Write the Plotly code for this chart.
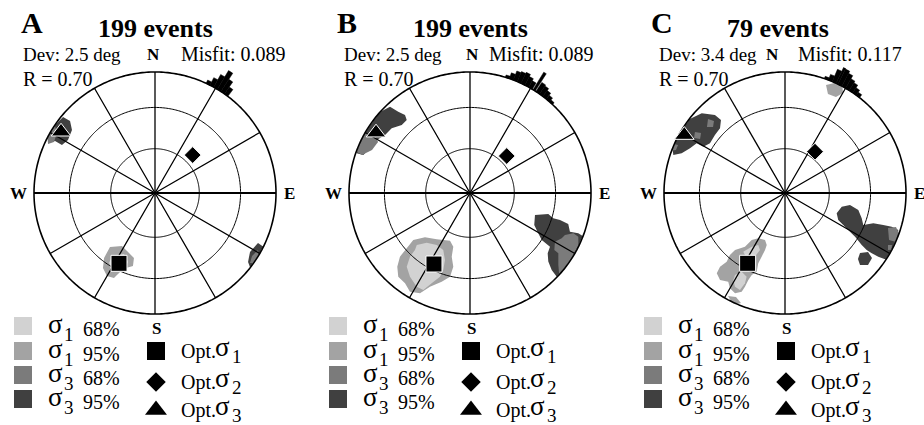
import numpy as np
import plotly.graph_objects as go

FIG_W, FIG_H = 924, 425
FONT = "Liberation Serif"

# ---------------- text content ----------------
PANEL_LABELS = ["A", "B", "C"]
EVENT_TITLES = ["199 events", "199 events", "79 events"]
DEV_TEXT = ["Dev: 2.5 deg", "Dev: 2.5 deg", "Dev: 3.4 deg"]
MISFIT_TEXT = ["Misfit: 0.089", "Misfit: 0.089", "Misfit: 0.117"]
R_TEXT = ["R = 0.70", "R = 0.70", "R = 0.70"]

REGION_SUB = ["1", "1", "3", "3"]
REGION_PCT = ["68%", "95%", "68%", "95%"]
REGION_COLORS = ["#d2d2d2", "#a3a3a3", "#7b7b7b", "#404040"]
OPT_SYMBOLS = ["square", "diamond", "triangle-up"]
OPT_SUB = ["1", "2", "3"]

# ---------------- stereonet grid ----------------
SPOKE_AZ = [0, 30, 60, 90, 120, 150]      # diameters every 30 deg
RING_PLUNGE = [60, 30]                     # small circles (equal-area)

# ---------------- optimum axes (azimuth deg, projected radius) ----------------
OPT_S1_AZ = [207.1, 206.9, 208.0]
OPT_S1_R = [0.653, 0.658, 0.658]
OPT_S2_AZ = [44.8, 44.8, 36.0]
OPT_S2_R = [0.442, 0.431, 0.422]
OPT_S3_AZ = [303.1, 302.7, 299.9]
OPT_S3_R = [0.927, 0.923, 0.960]

# ---------------- rose histograms on the rim ----------------
ROSE_A_AZ = [26, 28, 30, 32, 34, 36]
ROSE_A_LEN = [0.03, 0.07, 0.12, 0.18, 0.12, 0.07]
ROSE_A_WID = [2, 2, 2, 2, 2, 2]
ROSE_B_AZ = [18, 20, 22, 24, 26, 28, 30, 32, 34, 36, 38, 40, 42]
ROSE_B_LEN = [0.02, 0.05, 0.08, 0.09, 0.10, 0.08, 0.06, 0.17, 0.09, 0.08, 0.06, 0.04, 0.02]
ROSE_B_WID = [2, 2, 2, 2, 2, 2, 2, 1.2, 2, 2, 2, 2, 2]
ROSE_C_AZ = [20, 22, 24, 25.5, 27, 29, 31, 33, 35, 37]
ROSE_C_LEN = [0.02, 0.05, 0.11, 0.20, 0.14, 0.12, 0.09, 0.075, 0.05, 0.03]
ROSE_C_WID = [2, 2, 2, 1, 2, 2, 2, 2, 2, 2]

# ---------------- confidence regions (east, north in unit-circle projection) ----------------
A_S1_95 = [[(-0.372, -0.446), (-0.273, -0.438), (-0.223, -0.488), (-0.174, -0.537), (-0.182, -0.603),
            (-0.240, -0.620), (-0.289, -0.653), (-0.339, -0.702), (-0.397, -0.686), (-0.430, -0.620),
            (-0.421, -0.537)]]
A_S1_68 = [[(-0.355, -0.521), (-0.256, -0.504), (-0.223, -0.570), (-0.264, -0.653), (-0.347, -0.645),
            (-0.380, -0.579)]]
A_S3_95 = [[(-0.818, 0.570), (-0.760, 0.628), (-0.702, 0.595), (-0.686, 0.521), (-0.719, 0.438),
            (-0.769, 0.397), (-0.826, 0.430), (-0.884, 0.413), (-0.901, 0.471), (-0.868, 0.537)],
           [(0.851, -0.413), (0.901, -0.446), (0.893, -0.512), (0.851, -0.579), (0.793, -0.620),
            (0.769, -0.570), (0.785, -0.488)]]
A_S3_68 = [[(-0.884, 0.537), (-0.835, 0.562), (-0.810, 0.496), (-0.835, 0.421), (-0.884, 0.405),
            (-0.909, 0.463)],
           [(0.802, -0.521), (0.851, -0.471), (0.876, -0.521), (0.826, -0.587), (0.785, -0.579)]]

B_S1_95 = [[(-0.469, -0.388), (-0.372, -0.366), (-0.275, -0.383), (-0.165, -0.394), (-0.138, -0.444),
            (-0.151, -0.526), (-0.138, -0.609), (-0.165, -0.692), (-0.234, -0.733), (-0.331, -0.774),
            (-0.413, -0.829), (-0.496, -0.816), (-0.537, -0.746), (-0.593, -0.692), (-0.601, -0.609),
            (-0.579, -0.526), (-0.523, -0.457)]]
B_S1_68 = [[(-0.440, -0.430), (-0.358, -0.411), (-0.275, -0.430), (-0.221, -0.471), (-0.207, -0.554),
            (-0.221, -0.636), (-0.248, -0.692), (-0.317, -0.746), (-0.386, -0.802), (-0.440, -0.774),
            (-0.496, -0.692), (-0.523, -0.609), (-0.496, -0.526), (-0.455, -0.471)]]
B_S3_95 = [[(-0.758, 0.700), (-0.661, 0.713), (-0.593, 0.672), (-0.537, 0.645), (-0.523, 0.603),
            (-0.564, 0.562), (-0.647, 0.535), (-0.702, 0.479), (-0.771, 0.438), (-0.826, 0.369),
            (-0.882, 0.314), (-0.936, 0.328), (-0.931, 0.411), (-0.895, 0.493), (-0.854, 0.576),
            (-0.812, 0.659)],
           [(0.537, -0.182), (0.647, -0.174), (0.688, -0.209), (0.744, -0.223), (0.812, -0.256),
            (0.826, -0.320), (0.895, -0.333), (0.945, -0.361), (0.936, -0.471), (0.895, -0.554),
            (0.812, -0.650), (0.744, -0.719), (0.717, -0.692), (0.675, -0.636), (0.647, -0.567),
            (0.642, -0.498), (0.661, -0.444), (0.593, -0.388), (0.564, -0.333), (0.531, -0.264)]]
B_S3_68 = [[(-0.868, 0.504), (-0.785, 0.479), (-0.760, 0.421), (-0.810, 0.355), (-0.893, 0.314),
            (-0.934, 0.339), (-0.926, 0.421)],
           [(0.702, -0.402), (0.758, -0.374), (0.785, -0.347), (0.854, -0.333), (0.895, -0.361),
            (0.909, -0.444), (0.868, -0.540), (0.799, -0.636), (0.744, -0.678), (0.730, -0.595),
            (0.730, -0.498), (0.697, -0.471)]]

C_S1_95 = [[(-0.413, -0.471), (-0.331, -0.444), (-0.275, -0.388), (-0.221, -0.374), (-0.165, -0.388),
            (-0.151, -0.430), (-0.165, -0.471), (-0.193, -0.526), (-0.221, -0.581), (-0.234, -0.650),
            (-0.275, -0.678), (-0.303, -0.719), (-0.331, -0.774), (-0.358, -0.816), (-0.413, -0.829),
            (-0.455, -0.788), (-0.469, -0.733), (-0.537, -0.719), (-0.564, -0.664), (-0.537, -0.609),
            (-0.482, -0.568), (-0.455, -0.512)],
           [(-0.471, -0.851), (-0.405, -0.860), (-0.364, -0.909), (-0.397, -0.934), (-0.455, -0.909)],
           [(0.339, 0.893), (0.413, 0.917), (0.479, 0.884), (0.479, 0.826), (0.421, 0.793), (0.355, 0.818)]]
C_S1_68 = [[(-0.345, -0.485), (-0.275, -0.444), (-0.221, -0.430), (-0.207, -0.471), (-0.248, -0.526),
            (-0.303, -0.568)],
           [(-0.413, -0.678), (-0.358, -0.650), (-0.317, -0.692), (-0.331, -0.746), (-0.372, -0.802),
            (-0.413, -0.774), (-0.427, -0.719)]]
C_S3_95 = [[(-0.812, 0.631), (-0.688, 0.659), (-0.579, 0.645), (-0.529, 0.603), (-0.537, 0.535),
            (-0.579, 0.479), (-0.620, 0.411), (-0.675, 0.383), (-0.730, 0.411), (-0.785, 0.369),
            (-0.854, 0.328), (-0.923, 0.314), (-0.950, 0.369), (-0.923, 0.438), (-0.882, 0.493),
            (-0.854, 0.562)],
           [(0.469, -0.113), (0.537, -0.099), (0.606, -0.140), (0.634, -0.209), (0.647, -0.264),
            (0.730, -0.250), (0.812, -0.264), (0.882, -0.279), (0.936, -0.306), (0.950, -0.361),
            (0.909, -0.457), (0.882, -0.526), (0.840, -0.554), (0.771, -0.526), (0.717, -0.498),
            (0.675, -0.471), (0.634, -0.430), (0.579, -0.361), (0.537, -0.320), (0.496, -0.279),
            (0.440, -0.223), (0.427, -0.168)],
           [(0.620, -0.496), (0.686, -0.488), (0.719, -0.537), (0.686, -0.595), (0.620, -0.595),
            (0.603, -0.545)]]
C_S3_68 = [[(-0.636, 0.612), (-0.587, 0.595), (-0.595, 0.545), (-0.645, 0.545)],
           [(-0.744, 0.504), (-0.694, 0.496), (-0.702, 0.446), (-0.752, 0.455)],
           [(-0.934, 0.413), (-0.884, 0.397), (-0.901, 0.355), (-0.942, 0.355)],
           [(0.851, -0.289), (0.917, -0.281), (0.942, -0.331), (0.917, -0.405), (0.860, -0.388)],
           [(0.851, -0.430), (0.884, -0.430), (0.884, -0.471), (0.851, -0.471)]]

S1_95 = [A_S1_95, B_S1_95, C_S1_95]
S1_68 = [A_S1_68, B_S1_68, C_S1_68]
S3_95 = [A_S3_95, B_S3_95, C_S3_95]
S3_68 = [A_S3_68, B_S3_68, C_S3_68]
ROSE_AZ = [ROSE_A_AZ, ROSE_B_AZ, ROSE_C_AZ]
ROSE_LEN = [ROSE_A_LEN, ROSE_B_LEN, ROSE_C_LEN]
ROSE_WID = [ROSE_A_WID, ROSE_B_WID, ROSE_C_WID]

# ---------------- layout geometry (pixels) ----------------
CX = [155, 470, 785]
CY = 193
RPX = 121          # pixel radius of the primitive circle (r = 1)


def en_to_polar(pts):
    arr = np.asarray(pts, dtype=float)
    e, n = arr[:, 0], arr[:, 1]
    th = np.degrees(np.arctan2(e, n)) % 360
    r = np.minimum(np.hypot(e, n), 0.997)
    return th, r


def ann(x, y, text, size, bold=False, xanchor="center", yanchor="middle"):
    return dict(x=x / FIG_W, y=1 - y / FIG_H, xref="paper", yref="paper",
                text=f"<b>{text}</b>" if bold else text, showarrow=False,
                font=dict(family=FONT, size=size, color="black"),
                xanchor=xanchor, yanchor=yanchor, borderpad=0)


fig = go.Figure()
annotations = []
layout_polars = {}

for k in range(3):
    sp = "polar" if k == 0 else f"polar{k + 1}"
    cx = CX[k]
    # radial range extends past the primitive circle so the rim histogram fits
    rmax = min(1.22, (FIG_W - cx) / RPX - 0.001, cx / RPX)
    half = rmax * RPX
    layout_polars[sp] = dict(
        domain=dict(x=[(cx - half) / FIG_W, (cx + half) / FIG_W],
                    y=[(FIG_H - CY - half) / FIG_H, (FIG_H - CY + half) / FIG_H]),
        bgcolor="rgba(0,0,0,0)",
        radialaxis=dict(range=[0, rmax], visible=False),
        angularaxis=dict(direction="clockwise", rotation=90, showgrid=False,
                         showticklabels=False, ticks="", showline=False),
    )

    # confidence regions
    for color, polys in [(REGION_COLORS[1], S1_95[k]), (REGION_COLORS[0], S1_68[k]),
                         (REGION_COLORS[3], S3_95[k]), (REGION_COLORS[2], S3_68[k])]:
        for poly in polys:
            th, r = en_to_polar(poly)
            fig.add_trace(go.Scatterpolar(theta=th, r=r, mode="lines", fill="toself",
                                          fillcolor=color, line=dict(width=0, color=color),
                                          subplot=sp, hoverinfo="skip", showlegend=False))

    # small circles and primitive circle
    th_c = np.arange(0, 360.5, 1)
    for p in RING_PLUNGE:
        rr = np.sqrt(2) * np.sin(np.radians((90 - p) / 2))
        fig.add_trace(go.Scatterpolar(theta=th_c, r=np.full(th_c.size, rr), mode="lines",
                                      line=dict(color="black", width=1), subplot=sp,
                                      hoverinfo="skip", showlegend=False))
    fig.add_trace(go.Scatterpolar(theta=th_c, r=np.ones(th_c.size), mode="lines",
                                  line=dict(color="black", width=1.6), subplot=sp,
                                  hoverinfo="skip", showlegend=False))
    # diameters
    for az in SPOKE_AZ:
        fig.add_trace(go.Scatterpolar(theta=[az, az, az + 180], r=[1, 0, 1], mode="lines",
                                      line=dict(color="black", width=1.9 if az == 90 else 1.3),
                                      subplot=sp, hoverinfo="skip", showlegend=False))
    # rose histogram on rim, bars based on the primitive circle
    fig.add_trace(go.Barpolar(theta=ROSE_AZ[k], r=ROSE_LEN[k], base=1, width=ROSE_WID[k],
                              marker=dict(color="black", line=dict(color="black", width=0.5)),
                              subplot=sp, hoverinfo="skip", showlegend=False))
    # optimum axes
    fig.add_trace(go.Scatterpolar(theta=[OPT_S1_AZ[k], OPT_S2_AZ[k], OPT_S3_AZ[k]],
                                  r=[OPT_S1_R[k], OPT_S2_R[k], OPT_S3_R[k]], mode="markers",
                                  marker=dict(symbol=OPT_SYMBOLS, size=[16, 13, 17], color="black",
                                              opacity=1, line=dict(color="white", width=1)),
                                  cliponaxis=False, subplot=sp, hoverinfo="skip", showlegend=False))

    # legend glyphs
    sy = [326, 351, 375, 399]
    fig.add_trace(go.Scatter(x=[cx - 132] * 4, y=sy, mode="markers",
                             marker=dict(symbol="square", size=18, color=REGION_COLORS,
                                         opacity=1, line=dict(width=0)),
                             hoverinfo="skip", showlegend=False, cliponaxis=False))
    my = [351, 382, 410]
    fig.add_trace(go.Scatter(x=[cx + 1] * 3, y=my, mode="markers",
                             marker=dict(symbol=OPT_SYMBOLS, size=[18, 15, 19], color="black",
                                         opacity=1, line=dict(width=0)),
                             hoverinfo="skip", showlegend=False, cliponaxis=False))

    # texts
    annotations.append(ann(cx - 123, 23, PANEL_LABELS[k], 30, bold=True))
    title_cx = [155, 470, 778][k]
    annotations.append(ann(title_cx, 28, EVENT_TITLES[k], 26, bold=True))
    dev_left = [22, 343, 658][k]
    n_cx = [153, 472, 772][k]
    mis_left = [180, 488, 797][k]
    annotations.append(ann(dev_left, 54, DEV_TEXT[k], 19, xanchor="left"))
    annotations.append(ann(n_cx, 54, "N", 17, bold=True))
    annotations.append(ann(mis_left, 54, MISFIT_TEXT[k], 20, xanchor="left"))
    annotations.append(ann(dev_left, 79, R_TEXT[k], 20, xanchor="left"))
    annotations.append(ann(cx - RPX - 16, CY, "W", 17, bold=True))
    annotations.append(ann(cx + RPX + 13, CY, "E", 17, bold=True))
    annotations.append(ann(cx + 1, 328, "S", 17, bold=True))

    for i in range(4):
        ty = sy[i] + 3
        annotations.append(ann(cx - 100, ty - 4.7, "σ", 27))
        annotations.append(ann(cx - 86, ty + 5, REGION_SUB[i], 19))
        annotations.append(ann(cx - 54, ty, REGION_PCT[i], 20))
    for i in range(3):
        ty = my[i]
        annotations.append(ann(cx + 25, ty, "Opt.", 20, xanchor="left"))
        annotations.append(ann(cx + 67, ty - 3.7, "σ", 27))
        annotations.append(ann(cx + 82, ty + 5, OPT_SUB[i], 19))

fig.update_layout(
    width=FIG_W, height=FIG_H,
    margin=dict(l=0, r=0, t=0, b=0),
    paper_bgcolor="white", plot_bgcolor="rgba(0,0,0,0)",
    showlegend=False,
    xaxis=dict(range=[0, FIG_W], visible=False, domain=[0, 1], fixedrange=True),
    yaxis=dict(range=[FIG_H, 0], visible=False, domain=[0, 1], fixedrange=True),
    annotations=annotations,
    **layout_polars,
)

fig.write_html("out.html", config={"displayModeBar": False},
               post_script="document.body.style.margin='0';")
